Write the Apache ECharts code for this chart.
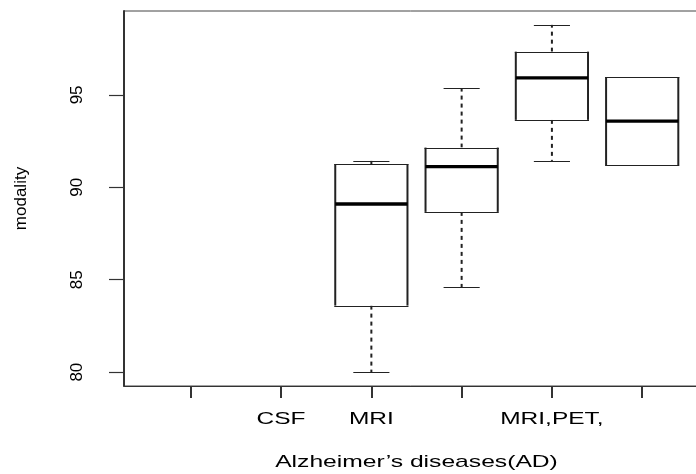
<!DOCTYPE html>
<html>
<head>
<meta charset="utf-8">
<script src="https://cdn.jsdelivr.net/npm/echarts@6/dist/echarts.min.js"></script>
<style>
html,body{margin:0;padding:0;background:#fff;}
#c{width:696px;height:474px;}
</style>
</head>
<body>
<div id="c"></div>
<script>
// ---- data ----
const categories = ['', 'CSF', 'MRI', '', 'MRI,PET,', ''];
const categoryPositions = [1, 2, 3, 4, 5, 6];
const boxPositions = [3, 4, 5, 6];
const boxMin    = [80.0, 84.6, 91.43, 91.2];
const boxQ1     = [83.6, 88.67, 93.65, 91.2];
const boxMedian = [89.1, 91.12, 95.92, 93.58];
const boxQ3     = [91.25, 92.15, 97.34, 95.97];
const boxMax    = [91.43, 95.36, 98.79, 95.97];
const yTicks = [80, 85, 90, 95];
const xTitle = 'Alzheimer\u2019s diseases(AD)';
const yTitle = 'modality';

// ---- chart ----
const FONT = '"Liberation Sans", Arial, sans-serif';
const TXT = '#000';
const LINE = '#222';
const xMin = 0.26, xMax = 6.74;
const yMin = 79.25, yMax = 99.54;

const boxData = boxPositions.map((p, i) => [p, boxMin[i], boxQ1[i], boxMedian[i], boxQ3[i], boxMax[i]]);

function px(v) { return Math.round(v) + 0.5; }

function renderBox(params, api) {
  const x = api.value(0);
  const cx = api.coord([x, api.value(1)])[0];
  const yMinP = api.coord([x, api.value(1)])[1];
  const yQ1 = api.coord([x, api.value(2)])[1];
  const yMed = api.coord([x, api.value(3)])[1];
  const yQ3 = api.coord([x, api.value(4)])[1];
  const yMaxP = api.coord([x, api.value(5)])[1];
  const halfW = api.size([0.8, 0])[0] / 2;
  const capHalf = api.size([0.4, 0])[0] / 2;
  const children = [];
  const dashStyle = { stroke: LINE, lineWidth: 2, lineDash: [4, 4], fill: null };
  const thin = { stroke: LINE, lineWidth: 1.2, fill: null };
  const side = { stroke: LINE, lineWidth: 2, fill: null };
  if (Math.abs(yMaxP - yQ3) > 0.5) {
    children.push({ type: 'line', shape: { x1: cx, y1: yQ3, x2: cx, y2: yMaxP }, style: dashStyle });
    children.push({ type: 'line', shape: { x1: cx - capHalf, y1: px(yMaxP), x2: cx + capHalf, y2: px(yMaxP) }, style: thin });
  }
  if (Math.abs(yMinP - yQ1) > 0.5) {
    children.push({ type: 'line', shape: { x1: cx, y1: yQ1, x2: cx, y2: yMinP }, style: dashStyle });
    children.push({ type: 'line', shape: { x1: cx - capHalf, y1: px(yMinP), x2: cx + capHalf, y2: px(yMinP) }, style: thin });
  }
  children.push({ type: 'rect', shape: { x: cx - halfW, y: yQ3, width: 2 * halfW, height: yQ1 - yQ3 }, style: { fill: '#fff', stroke: null } });
  children.push({ type: 'line', shape: { x1: cx - halfW - 1, y1: px(yQ3), x2: cx + halfW + 1, y2: px(yQ3) }, style: thin });
  children.push({ type: 'line', shape: { x1: cx - halfW - 1, y1: px(yQ1), x2: cx + halfW + 1, y2: px(yQ1) }, style: thin });
  children.push({ type: 'line', shape: { x1: cx - halfW, y1: yQ3, x2: cx - halfW, y2: yQ1 }, style: side });
  children.push({ type: 'line', shape: { x1: cx + halfW, y1: yQ3, x2: cx + halfW, y2: yQ1 }, style: side });
  children.push({ type: 'line', shape: { x1: cx - halfW, y1: yMed, x2: cx + halfW, y2: yMed }, style: { stroke: '#000', lineWidth: 3.4 } });
  return { type: 'group', children };
}

const chart = echarts.init(document.getElementById('c'), null, { renderer: 'canvas' });
chart.setOption({
  animation: false,
  backgroundColor: '#fff',
  grid: {
    left: 124, top: 11, width: 585, height: 375,
    show: true, borderColor: '#444', borderWidth: 1, backgroundColor: 'transparent',
    containLabel: false, outerBoundsMode: 'none'
  },
  xAxis: {
    type: 'value', min: xMin, max: xMax,
    axisLine: { show: true, onZero: false, lineStyle: { color: '#333', width: 1.2 } },
    axisTick: { show: true, customValues: categoryPositions, length: 12, lineStyle: { color: '#333', width: 2 } },
    axisLabel: { show: false },
    splitLine: { show: false }
  },
  yAxis: {
    type: 'value', min: yMin, max: yMax,
    axisLine: { show: true, onZero: false, lineStyle: { color: '#333', width: 2 } },
    axisTick: { show: true, customValues: yTicks, length: 15, lineStyle: { color: '#333', width: 1.2 } },
    axisLabel: { show: false },
    splitLine: { show: false },
    name: yTitle, nameLocation: 'middle', nameRotate: 90, nameGap: 94,
    nameTextStyle: { fontSize: 17, fontFamily: FONT, color: TXT }
  },
  series: [{
    type: 'custom',
    renderItem: renderBox,
    encode: { x: 0, y: [1, 2, 3, 4, 5] },
    data: boxData,
    clip: false
  }]
});

const graphics = [];
// y tick labels (rotated, reading upward), placed through the y scale
yTicks.forEach(v => {
  graphics.push({
    type: 'text', x: 77, y: chart.convertToPixel({ yAxisIndex: 0 }, v), rotation: Math.PI / 2,
    style: { text: String(v), x: 0, y: 0, align: 'center', verticalAlign: 'middle', fontSize: 17, fontFamily: FONT, fill: TXT }
  });
});
// x tick labels (wide, as in the reference)
categories.forEach((c, i) => {
  if (!c) return;
  const x = chart.convertToPixel({ xAxisIndex: 0 }, categoryPositions[i]);
  graphics.push({
    type: 'text', x: x, y: 419.5, scaleX: 1.44,
    style: { text: c, x: 0, y: 0, align: 'center', verticalAlign: 'middle', fontSize: 17, fontFamily: FONT, fill: TXT }
  });
});
graphics.push({
  type: 'text', x: chart.convertToPixel({ xAxisIndex: 0 }, (xMin + xMax) / 2), y: 462, scaleX: 1.45,
  style: { text: xTitle, x: 0, y: 0, align: 'center', verticalAlign: 'middle', fontSize: 17, fontFamily: FONT, fill: TXT }
});
chart.setOption({ graphic: graphics });
</script>
</body>
</html>
